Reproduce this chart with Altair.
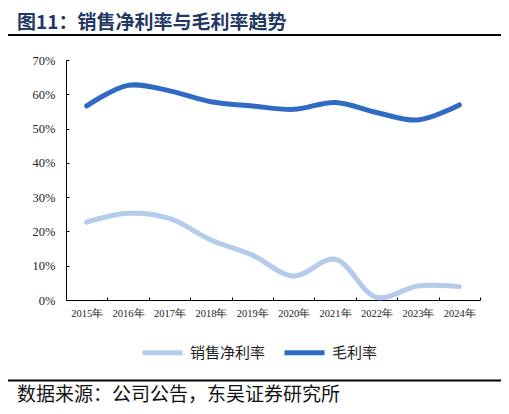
import altair as alt
import pandas as pd

# 销售净利率与毛利率趋势（%）
years = ["2015年", "2016年", "2017年", "2018年", "2019年",
         "2020年", "2021年", "2022年", "2023年", "2024年"]
net_margin = [22.7, 25.3, 23.8, 17.5, 13.1, 7.0, 11.9, 0.8, 4.1, 3.9]
gross_margin = [56.6, 62.6, 61.0, 57.8, 56.6, 55.6, 57.6, 54.7, 52.5, 56.9]

series_names = ["销售净利率", "毛利率"]
series_colors = ["#b4cbeb", "#2f6bc4"]

title_text = "图11：销售净利率与毛利率趋势"
source_text = "数据来源：公司公告，东吴证券研究所"

W, H = 414, 240
CJK = "Noto Sans CJK SC"
SERIF = "Liberation Serif"

data = pd.DataFrame({
    "年份": years * 2,
    "指标": [series_names[0]] * len(years) + [series_names[1]] * len(years),
    "值": [v / 100 for v in net_margin] + [v / 100 for v in gross_margin],
})

lines = (
    alt.Chart(data)
    .mark_line(strokeWidth=5, interpolate="catmull-rom", strokeCap="round")
    .encode(
        x=alt.X(
            "年份:N",
            sort=years,
            bandPosition=0.5,
            scale=alt.Scale(type="band", paddingInner=0, paddingOuter=0),
            title=None,
            axis=alt.Axis(
                labelAngle=0,
                labelFont=SERIF,
                labelFontSize=10.5,
                labelColor="#222222",
                labelPadding=8,
                ticks=False,
                tickBand="extent",
                grid=True,
                gridColor="black",
                gridWidth=1,
                gridDash=[0, H - 3, 3, 1000],
                domainColor="black",
                domainWidth=1,
            ),
        ),
        y=alt.Y(
            "值:Q",
            scale=alt.Scale(domain=[0, 0.7], nice=False),
            title=None,
            axis=alt.Axis(
                values=[0, 0.1, 0.2, 0.3, 0.4, 0.5, 0.6, 0.7],
                format=".0%",
                labelFont=SERIF,
                labelFontSize=12.5,
                labelColor="#222222",
                labelPadding=11,
                ticks=False,
                grid=True,
                gridColor="black",
                gridWidth=1,
                gridDash=[3, 1000],
                domainColor="black",
                domainWidth=1,
            ),
        ),
        color=alt.Color(
            "指标:N",
            sort=series_names,
            scale=alt.Scale(domain=series_names, range=series_colors),
            legend=alt.Legend(
                title=None,
                orient="none",
                legendX=74,
                legendY=270,
                direction="horizontal",
                symbolType="stroke",
                symbolSize=1600,
                symbolStrokeWidth=5,
                labelFont=CJK,
                labelFontSize=15,
                labelColor="#222222",
                labelOffset=5,
                columnPadding=8,
            ),
        ),
    )
)

one = pd.DataFrame({"k": [0]})

top_rule = (
    alt.Chart(one)
    .mark_rule(color="black", strokeWidth=2)
    .encode(x=alt.value(-61), x2=alt.value(437), y=alt.value(-25))
)
bottom_rule = (
    alt.Chart(one)
    .mark_rule(color="black", strokeWidth=2)
    .encode(x=alt.value(-61), x2=alt.value(437), y=alt.value(320.5))
)
source = (
    alt.Chart(one)
    .mark_text(align="left", baseline="middle", font=CJK, fontSize=19, color="#111111")
    .encode(x=alt.value(-49), y=alt.value(335), text=alt.value(source_text))
)

chart = (
    alt.layer(lines, top_rule, bottom_rule, source)
    .properties(
        width=W,
        height=H,
        autosize=alt.AutoSizeParams(type="none"),
        padding={"left": 58, "top": 52, "right": 21, "bottom": 106},
        title=alt.TitleParams(
            title_text,
            anchor="start",
            frame="group",
            font=CJK,
            fontSize=19,
            fontWeight="bold",
            color="#1f3864",
            offset=0,
            dx=-49,
            dy=-1,
        ),
    )
    .configure_view(stroke=None)
)

chart.save("out.html", embed_options={"renderer": "svg", "actions": False})
